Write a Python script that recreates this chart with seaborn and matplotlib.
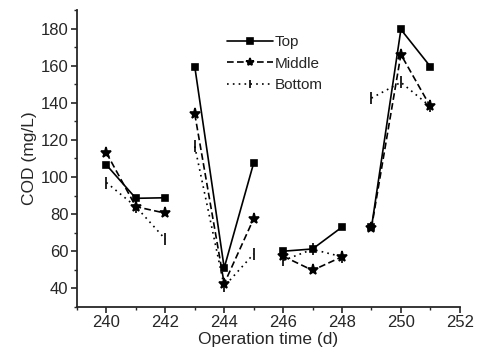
import numpy as np
import pandas as pd
import matplotlib
matplotlib.use("Agg")
import matplotlib.pyplot as plt
from matplotlib.ticker import MultipleLocator
import seaborn as sns

# operation days, split into the four sampling campaigns
days = [240, 241, 242, 243, 244, 245, 246, 247, 248, 249, 250, 251]
campaign = [1, 1, 1, 2, 2, 2, 3, 3, 3, 4, 4, 4]

# COD (mg/L)
cod_top = [106.5, 88.5, 88.8, 159.5, 51, 107.5, 60, 61.2, 73, 72.8, 179.5, 159.5]
cod_middle = [113, 84, 80.5, 134, 42.5, 77.5, 57.3, 49.7, 57, 72.5, 166, 138]
cod_bottom = [97, 84, 66.5, 116.5, 41, 58.5, 55, 61, 57, 142.5, 151, 138]

positions = ["Top", "Middle", "Bottom"]
markers = {"Top": "s", "Middle": "*", "Bottom": "|"}
dashes = {"Top": "-", "Middle": (0, (4, 2)), "Bottom": (0, (1, 2.5))}
msizes = {"Top": 5, "Middle": 8, "Bottom": 8}

df = pd.concat([
    pd.DataFrame({"day": days, "cod": vals, "campaign": campaign, "position": pos})
    for pos, vals in zip(positions, [cod_top, cod_middle, cod_bottom])
], ignore_index=True)

sns.set_style("ticks")
plt.rcParams["font.family"] = ["Liberation Sans", "DejaVu Sans"]

fig = plt.figure(figsize=(4.84, 3.56), dpi=100)
ax = fig.add_axes([0.159, 0.138, 0.791, 0.834])

for pos in positions:
    sns.lineplot(
        data=df[df.position == pos], x="day", y="cod", units="campaign",
        estimator=None, sort=False, color="black", marker=markers[pos],
        linestyle=dashes[pos], markersize=msizes[pos], lw=1.2,
        markeredgewidth=1.2, markeredgecolor="black", label=pos, ax=ax,
    )

ax.set_xlim(239, 252)
ax.set_ylim(30, 190)
ax.xaxis.set_major_locator(MultipleLocator(2))
ax.xaxis.set_minor_locator(MultipleLocator(1))
ax.yaxis.set_major_locator(MultipleLocator(20))
ax.yaxis.set_minor_locator(MultipleLocator(10))
ax.tick_params(which="major", direction="out", length=4, width=1.2, labelsize=12, pad=2)
ax.tick_params(which="minor", direction="out", length=2.5, width=1.0)
for s in ["left", "bottom"]:
    ax.spines[s].set_linewidth(1.3)
sns.despine(ax=ax)

ax.set_xlabel("Operation time (d)", fontsize=12.5, labelpad=1)
ax.set_ylabel("COD (mg/L)", fontsize=12.5, labelpad=3)

h, l = ax.get_legend_handles_labels()
seen = {}
for hh, ll in zip(h, l):
    seen.setdefault(ll, hh)
ax.legend(list(seen.values()), list(seen.keys()), loc="upper left",
          bbox_to_anchor=(0.368, 0.946), frameon=False, fontsize=11,
          handlelength=3.0, handletextpad=0.1, labelspacing=0.5,
          markerscale=0.75, borderaxespad=0.2)

fig.savefig("out.png", dpi=100)
